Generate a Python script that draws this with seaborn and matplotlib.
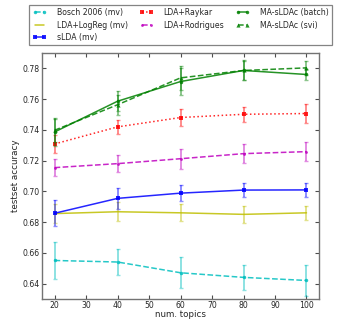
import numpy as np
import pandas as pd
import matplotlib
matplotlib.use("Agg")
import matplotlib.pyplot as plt
import seaborn as sns

topics = [20, 40, 60, 80, 100]

bosch = [0.655, 0.654, 0.647, 0.644, 0.642]
bosch_err = [0.012, 0.0085, 0.010, 0.008, 0.010]
logreg = [0.6855, 0.6867, 0.686, 0.685, 0.686]
logreg_err = [0.006, 0.0063, 0.0055, 0.0053, 0.0045]
slda = [0.6857, 0.6954, 0.6988, 0.7008, 0.7009]
slda_err = [0.0085, 0.0068, 0.0052, 0.0043, 0.0043]
raykar = [0.7308, 0.7419, 0.748, 0.7501, 0.7506]
raykar_err = [0.006, 0.0048, 0.0053, 0.0047, 0.006]
rodrigues = [0.7154, 0.718, 0.7212, 0.7245, 0.7258]
rodrigues_err = [0.0057, 0.0055, 0.0065, 0.006, 0.0063]
batch = [0.7386, 0.7586, 0.7714, 0.7786, 0.776]
batch_err = [0.009, 0.0065, 0.0085, 0.0065, 0.0035]
svi = [0.7397, 0.7563, 0.7738, 0.7786, 0.7803]
svi_err = [0.0075, 0.0065, 0.008, 0.006, 0.0045]

names = ["Bosch 2006 (mv)", "LDA+LogReg (mv)", "sLDA (mv)", "LDA+Raykar",
         "LDA+Rodrigues", "MA-sLDAc (batch)", "MA-sLDAc (svi)"]
means = [bosch, logreg, slda, raykar, rodrigues, batch, svi]
errs = [bosch_err, logreg_err, slda_err, raykar_err, rodrigues_err, batch_err, svi_err]
colors = ["c", "y", "b", "r", "m", "g", "g"]
styles = ["--", "-", "-", ":", "--", "-", "--"]
marks = ["o", None, "s", "s", "o", "o", "^"]
msizes = [2.5, 0, 2.5, 3.5, 2, 2.5, 3]

sns.set_style("ticks")
plt.rcParams["font.family"] = ["DejaVu Sans"]

fig = plt.figure(figsize=(3.4, 3.19), dpi=100)
ax = fig.add_axes([0.1235, 0.063, 0.815, 0.771])

for name, m, e, c, ls, mk, ms in zip(names, means, errs, colors, styles, marks, msizes):
    sns.lineplot(x=topics, y=m, color=c, linestyle=ls, marker=mk, markersize=ms,
                 markeredgewidth=0, linewidth=1.1, alpha=0.85, label=name, ax=ax)
    ax.errorbar(topics, m, yerr=e, fmt="none", ecolor=c, alpha=0.45,
                elinewidth=1.4, capsize=1.5, capthick=1)

ax.set_xlim(16, 104)
ax.set_ylim(0.63, 0.79)
ax.set_xticks(np.arange(20, 101, 10))
ax.set_yticks(np.arange(0.64, 0.781, 0.02))
ax.set_yticklabels([f"{v:.2f}" for v in np.arange(0.64, 0.781, 0.02)])
ax.tick_params(direction="in", top=True, right=True, labelsize=5.6, length=3,
               color="0.3", pad=1.5)
for s in ax.spines.values():
    s.set_color("0.45")
    s.set_linewidth(1)
ax.set_xlabel("num. topics", fontsize=6.3, labelpad=0)
ax.set_ylabel("testset accuracy", fontsize=6.3, labelpad=2)

handles, labels = ax.get_legend_handles_labels()
leg = ax.legend(handles, labels, ncol=3, fontsize=5.6, loc="upper center",
                bbox_to_anchor=(0.5, 1.195), frameon=True, fancybox=False,
                handlelength=1.8, handletextpad=1.3, columnspacing=1.5,
                labelspacing=0.45, borderpad=0.4, numpoints=2,
                borderaxespad=0)
leg.get_frame().set_edgecolor("0.4")
leg.get_frame().set_linewidth(0.9)

fig.savefig("out.png", dpi=100)
